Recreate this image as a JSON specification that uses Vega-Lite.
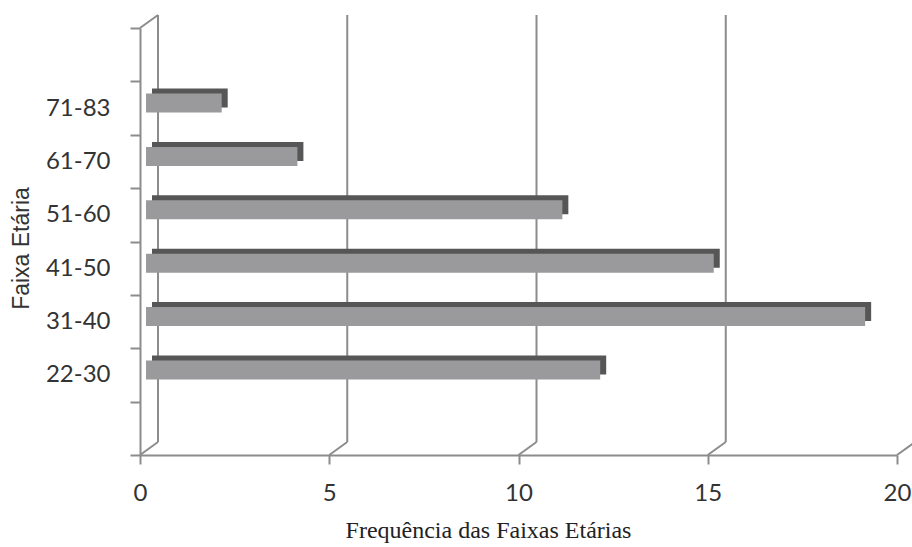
{
  "$schema": "https://vega.github.io/schema/vega-lite/v6.json",
  "autosize": {"type": "none"},
  "padding": {"left": 140, "top": 28, "right": 15, "bottom": 92},
  "width": 757,
  "height": 427,
  "background": "white",
  "config": {"view": {"stroke": null}},
  "datasets": {
    "faixas": [
      {"faixa": "22-30", "freq": 12},
      {"faixa": "31-40", "freq": 19},
      {"faixa": "41-50", "freq": 15},
      {"faixa": "51-60", "freq": 11},
      {"faixa": "61-70", "freq": 4},
      {"faixa": "71-83", "freq": 2}
    ],
    "grade": [{"v": 0}, {"v": 5}, {"v": 10}, {"v": 15}, {"v": 20}]
  },
  "layer": [
    {
      "data": {"name": "grade"},
      "mark": {"type": "rule", "color": "#8c8c8c", "strokeWidth": 2, "xOffset": 18, "yOffset": -13, "y2Offset": -13},
      "encoding": {
        "x": {"field": "v", "type": "quantitative", "scale": {"domain": [0, 20], "nice": false}},
        "y": {"value": 0},
        "y2": {"value": "height"}
      }
    },
    {
      "data": {"name": "grade"},
      "mark": {"type": "rule", "color": "#8c8c8c", "strokeWidth": 2, "x2Offset": 18, "y2Offset": -13},
      "encoding": {
        "x": {"field": "v", "type": "quantitative"},
        "x2": {"field": "v"},
        "y": {"value": "height"},
        "y2": {"value": "height"}
      }
    },
    {
      "data": {"values": [{"v": 0}]},
      "mark": {"type": "rule", "color": "#8c8c8c", "strokeWidth": 2, "x2Offset": 18, "y2Offset": -13},
      "encoding": {
        "x": {"field": "v", "type": "quantitative"},
        "x2": {"field": "v"},
        "y": {"value": 0},
        "y2": {"value": 0}
      }
    },
    {
      "data": {"name": "faixas"},
      "mark": {"type": "bar", "color": "#565656", "size": 19, "xOffset": 12, "x2Offset": 12, "yOffset": -10, "y2Offset": -10},
      "encoding": {
        "x": {"field": "freq", "type": "quantitative"},
        "y": {"field": "faixa", "type": "nominal"}
      }
    },
    {
      "data": {"name": "faixas"},
      "mark": {"type": "bar", "color": "#9a9a9c", "size": 19, "xOffset": 6, "x2Offset": 6, "yOffset": -5, "y2Offset": -5},
      "encoding": {
        "x": {
          "field": "freq",
          "type": "quantitative",
          "scale": {"domain": [0, 20], "nice": false},
          "axis": {
            "values": [0, 5, 10, 15, 20],
            "grid": false,
            "domainColor": "#8c8c8c",
            "domainWidth": 2,
            "tickColor": "#8c8c8c",
            "tickWidth": 2,
            "tickSize": 9,
            "labelFont": "Lato",
            "labelFontSize": 24,
            "labelColor": "#333333",
            "labelPadding": 17,
            "labelFlush": false,
            "title": "Frequência das Faixas Etárias",
            "titleFont": "Liberation Serif",
            "titleFontSize": 24,
            "titleFontWeight": "normal",
            "titleColor": "#222222",
            "titleX": 348,
            "titleY": 82,
            "titleAlign": "center",
            "titleBaseline": "alphabetic"
          }
        },
        "y": {
          "field": "faixa",
          "type": "nominal",
          "scale": {
            "domain": [" ", "71-83", "61-70", "51-60", "41-50", "31-40", "22-30", "  "],
            "paddingInner": 0,
            "paddingOuter": 0
          },
          "axis": {
            "tickBand": "extent",
            "domainColor": "#8c8c8c",
            "domainWidth": 2,
            "tickColor": "#8c8c8c",
            "tickWidth": 2,
            "tickSize": 10,
            "labelFont": "Lato",
            "labelFontSize": 24,
            "labelColor": "#333333",
            "labelPadding": 20,
            "title": "Faixa Etária",
            "titleFont": "Liberation Sans",
            "titleFontSize": 23,
            "titleFontWeight": "normal",
            "titleColor": "#333333",
            "titleAngle": 270,
            "titleX": -112,
            "titleY": 220,
            "titleAlign": "center",
            "titleBaseline": "alphabetic"
          }
        }
      }
    }
  ]
}
